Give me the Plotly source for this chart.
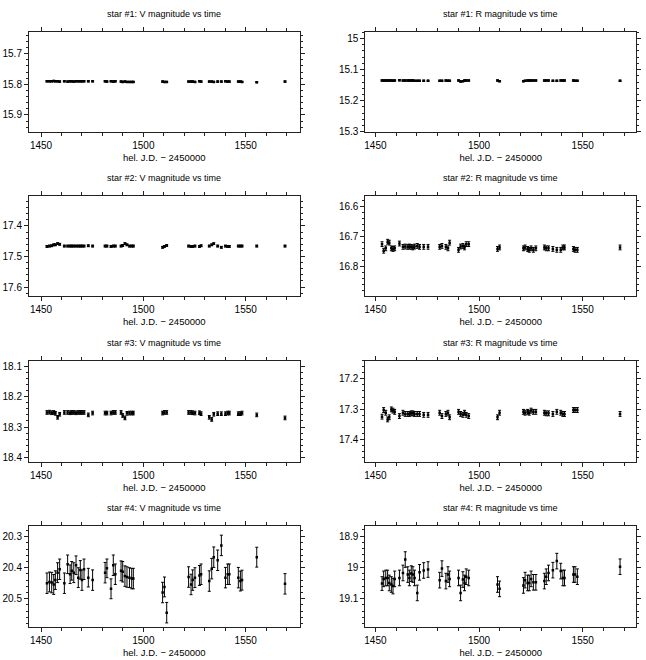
import plotly.graph_objects as go

# ---------------- data ----------------
T_V = [1452.9, 1454.1, 1455.2, 1456.2, 1457.0, 1458.1, 1459.1, 1461.4, 1463.0, 1464.2,
       1465.0, 1466.0, 1467.1, 1468.2, 1469.2, 1470.0, 1471.0, 1473.1, 1475.2, 1481.3,
       1482.2, 1484.2, 1485.3, 1486.3, 1489.1, 1489.9, 1491.0, 1492.0, 1493.2, 1494.3,
       1495.1, 1509.4, 1510.3, 1511.4, 1522.1, 1523.3, 1524.1, 1525.2, 1527.4, 1528.2,
       1532.2, 1533.4, 1534.4, 1536.3, 1538.1, 1540.1, 1541.2, 1542.0, 1546.4, 1547.4,
       1548.2, 1555.4, 1569.2]

T_R = [1453.2, 1454.0, 1455.0, 1455.9, 1456.7, 1457.7, 1458.5, 1459.3, 1461.6, 1463.3,
       1464.4, 1465.6, 1466.4, 1467.3, 1468.1, 1468.9, 1470.2, 1471.3, 1473.3, 1475.4,
       1481.0, 1482.1, 1484.0, 1485.0, 1485.8, 1490.1, 1491.1, 1492.2, 1493.0, 1493.8,
       1495.0, 1508.9, 1509.9, 1521.4, 1522.2, 1523.4, 1524.2, 1525.1, 1526.2, 1527.4,
       1531.5, 1532.4, 1533.5, 1535.6, 1537.5, 1539.4, 1540.4, 1541.2, 1545.5, 1546.3,
       1547.4, 1568.0]

S1_V = [15.790, 15.790, 15.790, 15.789, 15.790, 15.790, 15.791, 15.790, 15.791, 15.790,
        15.790, 15.791, 15.790, 15.790, 15.790, 15.790, 15.790, 15.790, 15.790, 15.790,
        15.791, 15.790, 15.791, 15.790, 15.791, 15.792, 15.791, 15.792, 15.792, 15.792,
        15.792, 15.791, 15.792, 15.792, 15.791, 15.791, 15.791, 15.792, 15.790, 15.791,
        15.791, 15.791, 15.792, 15.791, 15.791, 15.790, 15.791, 15.791, 15.791, 15.791,
        15.792, 15.793, 15.791]
S1_V_ERR = 0.002

S2_V = [17.467, 17.466, 17.465, 17.462, 17.462, 17.458, 17.460, 17.466, 17.466, 17.466,
        17.466, 17.466, 17.466, 17.466, 17.466, 17.466, 17.466, 17.465, 17.466, 17.466,
        17.466, 17.467, 17.466, 17.466, 17.466, 17.464, 17.458, 17.462, 17.466, 17.466,
        17.466, 17.470, 17.467, 17.464, 17.466, 17.467, 17.467, 17.466, 17.467, 17.465,
        17.466, 17.462, 17.458, 17.466, 17.470, 17.466, 17.467, 17.467, 17.466, 17.466,
        17.466, 17.466, 17.466]
S2_V_ERR = 0.003

S3_V = [18.252, 18.251, 18.253, 18.252, 18.255, 18.268, 18.258, 18.252, 18.252, 18.253,
        18.252, 18.252, 18.253, 18.252, 18.252, 18.252, 18.252, 18.260, 18.254, 18.254,
        18.254, 18.254, 18.252, 18.252, 18.252, 18.262, 18.270, 18.255, 18.254, 18.254,
        18.254, 18.254, 18.252, 18.252, 18.252, 18.252, 18.253, 18.254, 18.253, 18.256,
        18.268, 18.275, 18.258, 18.256, 18.256, 18.256, 18.254, 18.254, 18.256, 18.256,
        18.254, 18.260, 18.270]
S3_V_ERR = 0.006

S4_V = [20.450, 20.446, 20.448, 20.454, 20.440, 20.416, 20.405, 20.450, 20.389, 20.421,
        20.410, 20.416, 20.392, 20.432, 20.407, 20.440, 20.405, 20.432, 20.440, 20.416,
        20.402, 20.468, 20.392, 20.421, 20.410, 20.413, 20.427, 20.430, 20.432, 20.435,
        20.435, 20.480, 20.462, 20.545, 20.430, 20.454, 20.440, 20.432, 20.425, 20.421,
        20.443, 20.403, 20.366, 20.376, 20.328, 20.432, 20.421, 20.421, 20.432, 20.443,
        20.440, 20.366, 20.452]
S4_V_ERR = [0.033, 0.032, 0.033, 0.032, 0.030, 0.032, 0.033, 0.033, 0.030, 0.030,
            0.030, 0.032, 0.030, 0.032, 0.030, 0.033, 0.033, 0.030, 0.033, 0.033,
            0.030, 0.032, 0.033, 0.033, 0.032, 0.033, 0.033, 0.033, 0.032, 0.033,
            0.033, 0.033, 0.032, 0.033, 0.033, 0.033, 0.033, 0.032, 0.032, 0.033,
            0.033, 0.033, 0.033, 0.033, 0.033, 0.033, 0.033, 0.033, 0.033, 0.032,
            0.032, 0.032, 0.033]

S1_R = [15.135, 15.135, 15.135, 15.135, 15.135, 15.135, 15.136, 15.135, 15.134, 15.135,
        15.135, 15.135, 15.135, 15.135, 15.135, 15.136, 15.136, 15.136, 15.136, 15.136,
        15.136, 15.136, 15.135, 15.136, 15.136, 15.135, 15.138, 15.137, 15.135, 15.135,
        15.135, 15.135, 15.137, 15.137, 15.136, 15.135, 15.135, 15.135, 15.135, 15.135,
        15.135, 15.135, 15.135, 15.136, 15.136, 15.135, 15.135, 15.135, 15.135, 15.136,
        15.136, 15.136]
S1_R_ERR = 0.002

S2_R = [16.724, 16.746, 16.738, 16.716, 16.719, 16.738, 16.740, 16.738, 16.722, 16.733,
        16.732, 16.733, 16.732, 16.733, 16.735, 16.732, 16.730, 16.733, 16.733, 16.733,
        16.733, 16.730, 16.733, 16.738, 16.719, 16.743, 16.732, 16.730, 16.735, 16.724,
        16.724, 16.740, 16.735, 16.738, 16.735, 16.740, 16.743, 16.738, 16.743, 16.738,
        16.735, 16.738, 16.738, 16.740, 16.743, 16.743, 16.735, 16.735, 16.740, 16.743,
        16.743, 16.735]
S2_R_ERR = 0.008

S3_R = [17.325, 17.303, 17.312, 17.334, 17.327, 17.301, 17.305, 17.309, 17.323, 17.312,
        17.316, 17.316, 17.316, 17.314, 17.314, 17.316, 17.316, 17.316, 17.319, 17.319,
        17.312, 17.323, 17.316, 17.312, 17.327, 17.309, 17.316, 17.319, 17.312, 17.319,
        17.323, 17.327, 17.312, 17.309, 17.312, 17.309, 17.312, 17.305, 17.309, 17.309,
        17.312, 17.314, 17.314, 17.316, 17.309, 17.312, 17.316, 17.316, 17.303, 17.303,
        17.303, 17.316]
S3_R_ERR = 0.008

S4_R = [19.052, 19.037, 19.034, 19.034, 19.050, 19.055, 19.060, 19.037, 19.034, 19.018,
        18.975, 19.023, 19.034, 19.020, 19.023, 19.034, 19.082, 19.016, 19.010, 19.007,
        19.041, 19.004, 19.044, 19.023, 19.037, 19.034, 19.082, 19.039, 19.050, 19.030,
        19.034, 19.055, 19.069, 19.058, 19.041, 19.050, 19.050, 19.037, 19.048, 19.048,
        19.044, 19.030, 19.018, 19.009, 18.980, 19.012, 19.034, 19.034, 19.023, 19.023,
        19.030, 18.998]
S4_R_ERR = [0.022, 0.025, 0.025, 0.025, 0.025, 0.025, 0.025, 0.025, 0.025, 0.025,
            0.025, 0.025, 0.025, 0.025, 0.025, 0.025, 0.025, 0.025, 0.025, 0.025,
            0.025, 0.025, 0.025, 0.025, 0.025, 0.025, 0.025, 0.025, 0.025, 0.025,
            0.025, 0.025, 0.025, 0.025, 0.025, 0.025, 0.025, 0.025, 0.025, 0.025,
            0.025, 0.025, 0.025, 0.025, 0.025, 0.025, 0.025, 0.025, 0.025, 0.025,
            0.025, 0.025]

TITLES = ["star #1: V magnitude vs time", "star #1: R magnitude vs time",
          "star #2: V magnitude vs time", "star #2: R magnitude vs time",
          "star #3: V magnitude vs time", "star #3: R magnitude vs time",
          "star #4: V magnitude vs time", "star #4: R magnitude vs time"]
XLABEL = "hel. J.D. \u2212 2450000"

# ---------------- layout constants ----------------
W, H = 646, 660
COL_PX = [(28, 299), (365, 636)]
ROW_PX = [(32, 133), (198, 299), (364, 466), (531, 633)]
TITLE_Y_PX = [14, 180, 346, 513]
YRANGES = [(15.955, 15.628), (15.300, 14.978),
           (17.630, 17.303), (16.898, 16.564),
           (18.414, 18.082), (17.474, 17.140),
           (20.592, 20.266), (19.192, 18.868)]
XRANGES = [(1444.1, 1576.3), (1445.2, 1575.7)]

panels = [
    (T_V, S1_V, S1_V_ERR), (T_R, S1_R, S1_R_ERR),
    (T_V, S2_V, S2_V_ERR), (T_R, S2_R, S2_R_ERR),
    (T_V, S3_V, S3_V_ERR), (T_R, S3_R, S3_R_ERR),
    (T_V, S4_V, S4_V_ERR), (T_R, S4_R, S4_R_ERR),
]

FONT = "Liberation Sans"
fig = go.Figure()
annotations = []
layout = {}

for i, (t, m, e) in enumerate(panels):
    row, col = divmod(i, 2)
    n = i + 1
    xa = "x" if n == 1 else f"x{n}"
    ya = "y" if n == 1 else f"y{n}"
    if isinstance(e, list):
        err = dict(type="data", array=e, visible=True)
    else:
        err = dict(type="constant", value=e, visible=True)
    err.update(color="black", thickness=1, width=1.5)
    fig.add_trace(go.Scatter(
        x=t, y=m, mode="markers", xaxis=xa, yaxis=ya,
        marker=dict(symbol="square", size=2.5, color="black", line=dict(width=0)),
        error_y=err, showlegend=False, hoverinfo="x+y"))

    x0, x1 = COL_PX[col]
    t0, b0 = ROW_PX[row]
    axis_common = dict(
        showline=True, linecolor="#222", linewidth=1, mirror="ticks",
        ticks="outside", tickcolor="#222", tickwidth=1,
        showgrid=False, zeroline=False,
        tickfont=dict(family=FONT, size=10, color="black"),
    )
    xkey = "xaxis" if n == 1 else f"xaxis{n}"
    ykey = "yaxis" if n == 1 else f"yaxis{n}"
    layout[xkey] = dict(
        axis_common, domain=[x0 / W, x1 / W], anchor=ya,
        range=list(XRANGES[col]), tick0=1450, dtick=50, ticklen=4,
        minor=dict(dtick=10, ticks="outside", ticklen=3, tickcolor="#222", showgrid=False),
        title=dict(text=XLABEL, font=dict(family=FONT, size=9.5, color="black"), standoff=4),
    )
    layout[ykey] = dict(
        axis_common, domain=[1 - b0 / H, 1 - t0 / H], anchor=xa,
        range=list(YRANGES[i]), dtick=0.1, tick0=0, ticklen=4,
        minor=dict(dtick=0.02, ticks="outside", ticklen=2, tickcolor="#222", showgrid=False),
    )
    annotations.append(dict(
        text=TITLES[i], xref="paper", yref="paper",
        x=(x0 + x1) / 2 / W, y=1 - TITLE_Y_PX[row] / H,
        xanchor="center", yanchor="middle", showarrow=False,
        font=dict(family=FONT, size=9, color="black")))

fig.update_layout(
    width=W, height=H, margin=dict(l=0, r=0, t=0, b=0),
    paper_bgcolor="white", plot_bgcolor="white",
    annotations=annotations, showlegend=False, **layout)

fig.write_html("out.html")
